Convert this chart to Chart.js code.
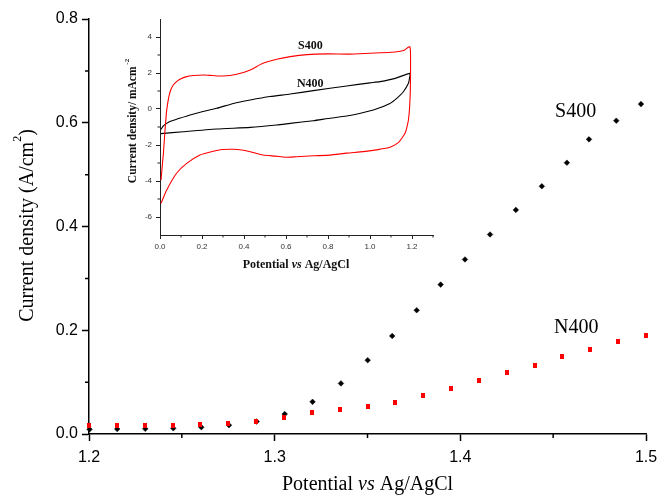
<!DOCTYPE html>
<html><head><meta charset="utf-8">
<script src="https://cdn.jsdelivr.net/npm/chart.js@4/dist/chart.umd.min.js"></script>
<style>
html,body{margin:0;padding:0;background:#fff;}
#wrap{position:relative;width:657px;height:495px;}
canvas{position:absolute;left:0;top:0;}
</style>
</head><body>
<div id="wrap"><canvas id="main" width="657" height="495"></canvas><canvas id="inset" width="657" height="495"></canvas></div>
<script>
// ---- Main plot data (LSV) ----
const s400X = [1.2003,1.2152,1.2303,1.2454,1.2605,1.2754,1.2903,1.3054,1.3204,1.3357,1.3501,1.3633,1.3765,1.3894,1.4025,1.4160,1.4299,1.4439,1.4574,1.4693,1.4840,1.4973];
const s400Y = [0.009,0.0096,0.010,0.011,0.013,0.017,0.024,0.0385,0.062,0.0975,0.1423,0.189,0.2385,0.288,0.3365,0.3846,0.432,0.4775,0.523,0.568,0.604,0.636];
const n400X = [1.200,1.215,1.230,1.245,1.260,1.275,1.290,1.305,1.320,1.335,1.350,1.365,1.380,1.395,1.410,1.425,1.440,1.455,1.470,1.485,1.500];
const n400Y = [0.016,0.0167,0.0173,0.0173,0.019,0.021,0.0244,0.031,0.041,0.0475,0.0525,0.061,0.0744,0.0879,0.103,0.118,0.1327,0.1487,0.163,0.1775,0.190];
const mainXTicks = [1.2,1.3,1.4,1.5];
const mainXMinor = [1.25,1.35,1.45];
const mainYTicks = [0.0,0.2,0.4,0.6,0.8];
const mainYMinor = [0.1,0.3,0.5,0.7];

// ---- Inset data (CV) ----
const cvS400X = [0.005,0.012,0.016,0.024,0.032,0.040,0.048,0.063,0.079,0.095,0.127,0.16,0.206,0.25,0.30,0.365,0.43,0.49,0.556,0.62,0.70,0.80,0.90,1.00,1.10,1.16,1.19,1.193,1.192,1.188,1.183,1.175,1.167,1.15,1.135,1.095,1.03,0.968,0.89,0.81,0.73,0.65,0.60,0.55,0.49,0.43,0.39,0.35,0.30,0.27,0.23,0.19,0.127,0.079,0.032,0.005];
const cvS400Y = [-3.94,-3.0,-2.5,-1.17,-0.05,0.55,0.96,1.33,1.52,1.65,1.80,1.86,1.89,1.86,1.83,1.93,2.17,2.54,2.76,2.91,3.02,3.06,3.05,3.10,3.15,3.25,3.46,2.5,1.0,0.0,-0.61,-1.05,-1.35,-1.65,-1.87,-2.13,-2.27,-2.37,-2.45,-2.56,-2.60,-2.65,-2.68,-2.62,-2.56,-2.37,-2.28,-2.24,-2.25,-2.31,-2.42,-2.56,-3.02,-3.57,-4.5,-5.24];
const cvN400X = [0.005,0.015,0.032,0.05,0.079,0.143,0.20,0.27,0.35,0.43,0.524,0.62,0.73,0.889,1.00,1.048,1.12,1.19,1.188,1.183,1.159,1.13,1.095,1.016,0.95,0.889,0.80,0.73,0.62,0.556,0.43,0.27,0.111,0.005];
const cvN400Y = [-1.13,-0.95,-0.80,-0.68,-0.57,-0.33,-0.15,0.04,0.31,0.50,0.69,0.83,1.02,1.28,1.45,1.52,1.70,1.98,1.70,1.43,0.96,0.62,0.31,-0.06,-0.25,-0.39,-0.53,-0.65,-0.80,-0.89,-1.02,-1.11,-1.26,-1.37];
const insetXTicks = [0.0,0.2,0.4,0.6,0.8,1.0,1.2];
const insetXMinor = [0.1,0.3,0.5,0.7,0.9,1.1,1.3];
const insetYTicks = [-6,-4,-2,0,2,4];
const insetYMinor = [-5,-3,-1,1,3];

const pts = (xs, ys) => xs.map((x, i) => ({x: x, y: ys[i]}));

const redMark = document.createElement('canvas');
redMark.width = 4; redMark.height = 5;
(function(){ const c = redMark.getContext('2d'); c.fillStyle = '#ff0000'; c.fillRect(0,0,4,5); })();

const minorTicks = {
  id: 'minorTicks',
  afterDraw(chart, args, o) {
    const ctx = chart.ctx, a = chart.chartArea, xs = chart.scales.x, ys = chart.scales.y;
    ctx.save();
    ctx.strokeStyle = o.color; ctx.lineWidth = o.width;
    ctx.beginPath();
    o.xMinor.forEach(v => { const p = xs.getPixelForValue(v); ctx.moveTo(p, a.bottom); ctx.lineTo(p, a.bottom + o.len); });
    o.yMinor.forEach(v => { const p = ys.getPixelForValue(v); ctx.moveTo(a.left, p); ctx.lineTo(a.left - o.len, p); });
    ctx.stroke();
    ctx.restore();
  }
};

function drawPieces(ctx, pieces, cx, baseY) {
  let total = 0;
  pieces.forEach(p => { ctx.font = p.font; p.w = ctx.measureText(p.t).width; total += p.w; });
  let x = cx - total / 2;
  pieces.forEach(p => { ctx.font = p.font; ctx.fillText(p.t, x, baseY - (p.rise || 0)); x += p.w; });
}

const mainText = {
  id: 'mainText',
  afterDraw(chart) {
    const ctx = chart.ctx, xs = chart.scales.x, ys = chart.scales.y;
    ctx.save();
    ctx.fillStyle = '#000'; ctx.textBaseline = 'alphabetic'; ctx.textAlign = 'left';
    const serif = '"Liberation Serif","Times New Roman",serif';
    drawPieces(ctx, [
      {t: 'Potential ', font: '20px ' + serif},
      {t: 'vs', font: 'italic 20px ' + serif},
      {t: ' Ag/AgCl', font: '20px ' + serif}
    ], 367.5, 490);
    ctx.save();
    ctx.translate(33, 225.5);
    ctx.rotate(-Math.PI / 2);
    drawPieces(ctx, [
      {t: 'Current density (A/cm', font: '20px ' + serif},
      {t: '2', font: '12px ' + serif, rise: 12},
      {t: ')', font: '20px ' + serif}
    ], 0, 0);
    ctx.restore();
    ctx.font = '20px ' + serif;
    ctx.fillText('S400', xs.getPixelForValue(1.451), ys.getPixelForValue(0.611));
    ctx.fillText('N400', xs.getPixelForValue(1.4505), ys.getPixelForValue(0.194));
    ctx.restore();
  }
};

const insetText = {
  id: 'insetText',
  afterDraw(chart) {
    const ctx = chart.ctx, xs = chart.scales.x, ys = chart.scales.y;
    ctx.save();
    ctx.fillStyle = '#111'; ctx.textBaseline = 'alphabetic'; ctx.textAlign = 'left';
    const serif = '"Liberation Serif","Times New Roman",serif';
    drawPieces(ctx, [
      {t: 'Potential ', font: 'bold 12px ' + serif},
      {t: 'vs', font: 'italic bold 12px ' + serif},
      {t: ' Ag/AgCl', font: 'bold 12px ' + serif}
    ], 296, 268);
    ctx.save();
    ctx.translate(136, 121);
    ctx.rotate(-Math.PI / 2);
    drawPieces(ctx, [
      {t: 'Current density/ mAcm', font: 'bold 11.5px ' + serif},
      {t: ' -2', font: 'bold 7px ' + serif, rise: 7}
    ], 0, 0);
    ctx.restore();
    ctx.font = 'bold 12px ' + serif;
    ctx.fillText('S400', xs.getPixelForValue(0.657), ys.getPixelForValue(3.33));
    ctx.fillText('N400', xs.getPixelForValue(0.652), ys.getPixelForValue(1.22));
    ctx.restore();
  }
};

new Chart(document.getElementById('main'), {
  type: 'scatter',
  data: {
    datasets: [
      {label: 'N400', data: pts(n400X, n400Y), pointStyle: redMark, pointRadius: 3, order: 0, clip: false},
      {label: 'S400', data: pts(s400X, s400Y), pointStyle: 'rectRot', pointRadius: 2.8, backgroundColor: '#000', borderColor: '#000', borderWidth: 0.5, order: 1, clip: false}
    ]
  },
  options: {
    responsive: false, animation: false, events: [],
    layout: {padding: {left: 0, right: 11, top: 19, bottom: 0}},
    plugins: {legend: {display: false}, tooltip: {enabled: false},
      minorTicks: {xMinor: mainXMinor, yMinor: mainYMinor, len: 4, color: '#000', width: 1.5}},
    scales: {
      x: {
        type: 'linear', min: 1.2, max: 1.5,
        afterBuildTicks: s => { s.ticks = mainXTicks.map(v => ({value: v})); },
        afterFit: s => { s.height = 61; s.paddingLeft = 0; s.paddingRight = 0; },
        grid: {display: true, drawOnChartArea: false, drawTicks: true, tickLength: 7, tickColor: '#000', tickWidth: 1.5},
        border: {display: true, color: '#000', width: 1.5},
        ticks: {color: '#000', padding: 7, maxRotation: 0, autoSkip: false,
          font: {family: '"Liberation Sans", Arial, sans-serif', size: 16},
          callback: v => Number(v).toFixed(1)}
      },
      y: {
        type: 'linear', min: 0, max: 0.8,
        afterBuildTicks: s => { s.ticks = mainYTicks.map(v => ({value: v})); },
        afterFit: s => { s.width = 89; s.paddingTop = 0; s.paddingBottom = 0; },
        grid: {display: true, drawOnChartArea: false, drawTicks: true, tickLength: 7, tickColor: '#000', tickWidth: 1.5},
        border: {display: true, color: '#000', width: 1.5},
        ticks: {color: '#000', padding: 4, autoSkip: false,
          font: {family: '"Liberation Sans", Arial, sans-serif', size: 16},
          callback: v => Number(v).toFixed(1)}
      }
    }
  },
  plugins: [minorTicks, mainText]
});

new Chart(document.getElementById('inset'), {
  type: 'scatter',
  data: {
    datasets: [
      {label: 'S400', data: pts(cvS400X, cvS400Y), showLine: true, pointRadius: 0, borderColor: '#ff0000', borderWidth: 1.1, tension: 0.2, clip: false},
      {label: 'N400', data: pts(cvN400X, cvN400Y), showLine: true, pointRadius: 0, borderColor: '#000000', borderWidth: 1.1, tension: 0.2, clip: false}
    ]
  },
  options: {
    responsive: false, animation: false, events: [],
    layout: {padding: {left: 0, right: 224, top: 19, bottom: 0}},
    plugins: {legend: {display: false}, tooltip: {enabled: false},
      minorTicks: {xMinor: insetXMinor, yMinor: insetYMinor, len: 2.5, color: '#222', width: 1}},
    scales: {
      x: {
        type: 'linear', min: 0, max: 1.3,
        afterBuildTicks: s => { s.ticks = insetXTicks.map(v => ({value: v})); },
        afterFit: s => { s.height = 260; s.paddingLeft = 0; s.paddingRight = 0; },
        grid: {display: true, drawOnChartArea: false, drawTicks: true, tickLength: 4, tickColor: '#222', tickWidth: 1},
        border: {display: true, color: '#222', width: 1},
        ticks: {color: '#333', padding: 3, maxRotation: 0, autoSkip: false,
          font: {family: '"Liberation Sans", Arial, sans-serif', size: 8},
          callback: v => Number(v).toFixed(1)}
      },
      y: {
        type: 'linear', min: -7, max: 5,
        afterBuildTicks: s => { s.ticks = insetYTicks.map(v => ({value: v})); },
        afterFit: s => { s.width = 160; s.paddingTop = 0; s.paddingBottom = 0; },
        grid: {display: true, drawOnChartArea: false, drawTicks: true, tickLength: 4, tickColor: '#222', tickWidth: 1},
        border: {display: true, color: '#222', width: 1},
        ticks: {color: '#333', padding: 4, autoSkip: false,
          font: {family: '"Liberation Sans", Arial, sans-serif', size: 8},
          callback: v => String(v)}
      }
    }
  },
  plugins: [minorTicks, insetText]
});
</script>
</body></html>
